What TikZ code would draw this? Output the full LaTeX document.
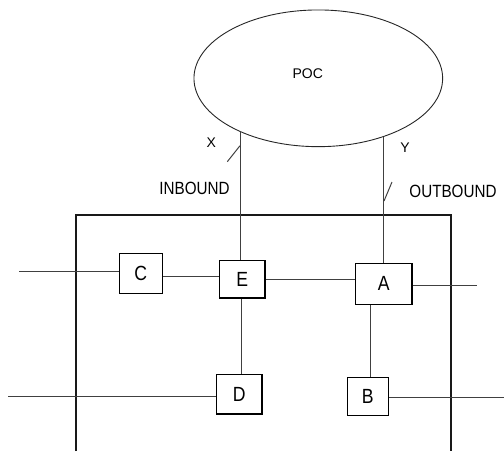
\documentclass[tikz,border=0pt]{standalone}
\usepackage{fontspec}
\usepackage{graphicx}
\setmainfont{Liberation Sans}
\usetikzlibrary{shapes.geometric}
\begin{document}
\begin{tikzpicture}[x=1pt,y=-1pt,
  box/.style={draw=black,line width=1.5pt,inner sep=0pt,font=\fontsize{20.5}{24}\selectfont},
  wire/.style={draw=black!75,line width=1pt},
  frame/.style={draw=black!90,line width=1.5pt},
  lbl/.style={inner sep=0pt,font=\fontsize{17.7}{21}\selectfont},
  small/.style={inner sep=0pt,font=\fontsize{14}{17}\selectfont}]
\useasboundingbox (0,0) rectangle (504,451);
% POC ellipse
\node[ellipse,draw=black!85,line width=0.9pt,minimum width=248.7pt,minimum height=136.7pt,inner sep=0pt] (poc) at (318.3,78.3) {};
\node[small] (poclabel) at (307.8,73.3) {POC};
% frame
\draw[frame] (76,451) -- (76,215) -- (451,215) -- (451,451);
% boxes
\node[box,minimum width=43pt,minimum height=40pt] (c) at (140.8,273.7) {\scalebox{0.86}[1]{C}};
\node[box,minimum width=45.7pt,minimum height=37.7pt] (e) at (242.2,279.2) {\scalebox{0.86}[1]{E}};
\node[box,minimum width=56.7pt,minimum height=41pt] (a) at (383.7,283.8) {\scalebox{0.86}[1]{A}};
\node[box,minimum width=45.3pt,minimum height=39.7pt] (d) at (239.3,394.2) {\scalebox{0.86}[1]{D}};
\node[box,minimum width=41pt,minimum height=38pt] (b) at (367.8,396.7) {\scalebox{0.86}[1]{B}};
% labels
\node[small] (xl) at (211.3,143) {X};
\node[small] (yl) at (405,147.7) {Y};
\node[lbl] (inb) at (194.5,188) {\scalebox{0.86}[1]{INBOUND}};
\node[lbl] (outb) at (453,191.7) {\scalebox{0.86}[1]{OUTBOUND}};
% coordinates
\coordinate (ex) at (240,131.4);
\coordinate (ay) at (383.6,136.5);
\coordinate (xs1) at (227.3,161.7);
\coordinate (xs2) at (240,145.7);
\coordinate (ys1) at (384,201);
\coordinate (ys2) at (392,182);
\coordinate (cl) at (19,271.3);
\coordinate (ce) at (0,276);
\coordinate (ar) at (476.7,285.3);
\coordinate (ed) at (241.7,0);
\coordinate (ab) at (370,0);
\coordinate (dl) at (8,396.7);
\coordinate (br) at (504,397.7);
% connectors
\draw[wire] (ex) -- (ex |- e.north);
\draw[wire] (ay) -- (ay |- a.north);
\draw[wire] (xs1) -- (xs2);
\draw[wire] (ys1) -- (ys2);
\draw[wire] (cl) -- (cl -| c.west);
\draw[wire] (c.east |- ce) -- (e.west |- ce);
\draw[wire] (e.east) -- (e.east -| a.west);
\draw[wire] (a.east |- ar) -- (ar);
\draw[wire] (ed |- e.south) -- (ed |- d.north);
\draw[wire] (ab |- a.south) -- (ab |- b.north);
\draw[wire] (dl) -- (dl -| d.west);
\draw[wire] (b.east |- br) -- (br);
\end{tikzpicture}
\end{document}
